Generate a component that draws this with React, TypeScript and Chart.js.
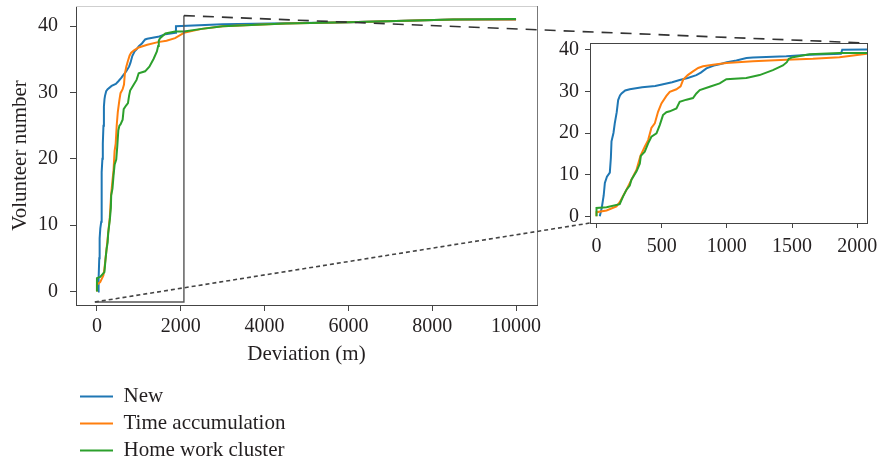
import { useEffect, useRef } from "react";
import { Chart, registerables } from "chart.js";

Chart.register(...registerables);

const W = 881;
const H = 465;
const FONT = "'Liberation Serif', 'Times New Roman', serif";
const TEXT = "#231f20";

// ---- data -------------------------------------------------------------
const seriesNames = ["New", "Time accumulation", "Home work cluster"];
const seriesColors = ["#1f77b4", "#ff7f0e", "#2ca02c"];

const newX = [25, 40, 55, 64, 80, 102, 110, 115, 130, 140, 155, 166, 180, 192, 220, 255, 350, 450, 511, 580, 638, 700, 766, 800, 843, 900, 945, 1000, 1073, 1150, 1200, 1456, 1634, 1875, 1885, 3000, 6000, 8500, 10000];
const newY = [0, 2, 5, 8, 9.5, 10.5, 14, 18, 20, 22.3, 25, 27.9, 29, 29.5, 30.2, 30.5, 31, 31.3, 31.7, 32.2, 32.7, 33.2, 33.9, 34.5, 35.5, 36.2, 36.5, 37, 37.4, 38, 38.1, 38.4, 38.8, 39, 40, 40.3, 40.6, 41, 41];

const timeX = [0, 0, 77, 153, 178, 230, 268, 307, 337, 370, 396, 421, 447, 472, 498, 536, 562, 613, 645, 665, 700, 740, 780, 817, 894, 996, 1200, 1456, 1660, 1864, 2074, 2500, 3000, 4500, 6000, 8500, 10000];
const timeY = [0, 1, 1.4, 2.4, 3.4, 6.4, 8.8, 11.2, 14.5, 16.7, 18.3, 21.2, 22.3, 25.1, 27.1, 28.9, 29.9, 30.5, 31.2, 32.8, 33.9, 34.8, 35.6, 36, 36.4, 36.8, 37.2, 37.6, 37.8, 38.2, 39, 39.6, 40, 40.4, 40.6, 41, 41];

const homeX = [0, 0, 77, 178, 204, 230, 255, 268, 307, 332, 340, 370, 396, 421, 460, 485, 510, 536, 562, 613, 638, 690, 740, 766, 792, 868, 945, 996, 1149, 1251, 1353, 1430, 1460, 1475, 1506, 1634, 1864, 2074, 2500, 3000, 4500, 6000, 8500, 10000];
const homeY = [0, 2, 2.2, 2.9, 4.8, 6.4, 7.4, 8.8, 10.8, 12.6, 14.5, 15.5, 17.5, 19.1, 19.9, 21.9, 24.3, 25, 25.2, 25.9, 27.5, 28, 28.4, 29.5, 30.3, 31.1, 31.9, 32.9, 33.2, 33.9, 35.1, 36.2, 37, 37.8, 38.2, 38.9, 39.2, 39.2, 39.6, 40, 40.4, 40.6, 41, 41.1];

const mainXTicks = [0, 2000, 4000, 6000, 8000, 10000];
const mainYTicks = [0, 10, 20, 30, 40];
const insetXTicks = [0, 500, 1000, 1500, 2000];
const insetYTicks = [0, 10, 20, 30, 40];
const mainXRange = [-500, 10500];
const mainYRange = [-2.05, 43.05];
const insetXRange = [-50, 2075];
const insetYRange = [-1.6, 41.6];

const xTitle = "Deviation (m)";
const yTitle = "Volunteer number";

// ---- helpers ----------------------------------------------------------
const seriesList = [
  { label: seriesNames[0], xs: newX, ys: newY, color: seriesColors[0] },
  { label: seriesNames[1], xs: timeX, ys: timeY, color: seriesColors[1] },
  { label: seriesNames[2], xs: homeX, ys: homeY, color: seriesColors[2] },
];

function makeDatasets(width: number) {
  // reversed so that the last series is painted on top (Chart.js paints index 0 last)
  return [...seriesList].reverse().map((s) => ({
    label: s.label,
    data: s.xs.map((x, i) => ({ x, y: s.ys[i] })),
    borderColor: s.color,
    backgroundColor: s.color,
    borderWidth: width,
    pointRadius: 0,
    tension: 0,
    fill: false,
  }));
}

const fixTicks = (vals: number[]) => (scale: any) => {
  scale.ticks = vals.map((v) => ({ value: v }));
};

function spinesPlugin(id: string, sides: { top?: string; right?: string }) {
  return {
    id,
    afterDraw(chart: any) {
      const { ctx, chartArea: a } = chart;
      ctx.save();
      ctx.lineWidth = 1;
      if (sides.top) {
        ctx.strokeStyle = sides.top;
        ctx.beginPath();
        ctx.moveTo(a.left, Math.round(a.top) + 0.5);
        ctx.lineTo(a.right, Math.round(a.top) + 0.5);
        ctx.stroke();
      }
      if (sides.right) {
        ctx.strokeStyle = sides.right;
        ctx.beginPath();
        ctx.moveTo(Math.round(a.right) + 0.5, a.top);
        ctx.lineTo(Math.round(a.right) + 0.5, a.bottom);
        ctx.stroke();
      }
      ctx.restore();
    },
  };
}

function axisOpts(kind: "x" | "y", range: number[], ticks: number[], size: number, tickPad: number, tickLen: number, title?: any) {
  const o: any = {
    type: "linear",
    min: range[0],
    max: range[1],
    afterBuildTicks: fixTicks(ticks),
    grid: { display: true, drawOnChartArea: false, drawTicks: true, tickLength: tickLen, color: "#444", lineWidth: 1 },
    border: { display: true, color: "#444", width: 1 },
    ticks: {
      font: { family: FONT, size: 20 },
      color: TEXT,
      padding: tickPad,
      maxRotation: 0,
      autoSkip: false,
      callback: (v: any) => `${v}`,
    },
    title: title || { display: false },
  };
  if (kind === "x")
    o.afterFit = (s: any) => {
      s.height = size;
      s.paddingLeft = 0;
      s.paddingRight = 0;
    };
  else
    o.afterFit = (s: any) => {
      s.width = size;
      s.paddingTop = 0;
      s.paddingBottom = 0;
    };
  return o;
}

export default function App() {
  const mainRef = useRef<HTMLCanvasElement>(null);
  const insetRef = useRef<HTMLCanvasElement>(null);
  const legendRef = useRef<HTMLCanvasElement>(null);

  useEffect(() => {
    if (!mainRef.current || !insetRef.current || !legendRef.current) return;

    // main chart: area left 76, right 537, top 6, bottom 305
    const main = new Chart(mainRef.current, {
      type: "line",
      data: { datasets: makeDatasets(2) as any },
      options: {
        animation: false,
        responsive: false,
        events: [],
        layout: { padding: { left: 0, top: 6, right: W - 537, bottom: H - 305 - 70 } },
        plugins: { legend: { display: false }, tooltip: { enabled: false } },
        scales: {
          x: axisOpts("x", mainXRange, mainXTicks, 70, 4, 6, {
            display: true,
            text: xTitle,
            font: { family: FONT, size: 21 },
            color: TEXT,
            padding: { top: 0, bottom: 8 },
          }),
          y: axisOpts("y", mainYRange, mainYTicks, 76, 12, 6, {
            display: true,
            text: yTitle,
            font: { family: FONT, size: 21 },
            color: TEXT,
            padding: { top: 8, bottom: 0 },
          }),
        },
      } as any,
      plugins: [spinesPlugin("mainSpines", { top: "#cfcfcf", right: "#777" })],
    });

    const connectors = {
      id: "connectors",
      afterDraw(chart: any) {
        const { ctx, chartArea: a } = chart;
        const mx = main.scales.x;
        const my = main.scales.y;
        const x0 = mx.getPixelForValue(insetXRange[0]);
        const x1 = mx.getPixelForValue(insetXRange[1]);
        const y0 = my.getPixelForValue(insetYRange[0]);
        const y1 = my.getPixelForValue(insetYRange[1]);
        ctx.save();
        // zoom rectangle (visible edges)
        ctx.strokeStyle = "#555";
        ctx.lineWidth = 1.4;
        ctx.setLineDash([]);
        ctx.beginPath();
        ctx.moveTo(x0, y0);
        ctx.lineTo(x1, y0);
        ctx.lineTo(x1, y1);
        ctx.stroke();
        // dotted connector (bottom-left)
        ctx.strokeStyle = "#444";
        ctx.lineWidth = 1.6;
        ctx.setLineDash([4, 3]);
        ctx.beginPath();
        ctx.moveTo(x0, y0);
        ctx.lineTo(a.left, a.bottom);
        ctx.stroke();
        // dashed connector (top-right)
        ctx.strokeStyle = "#333";
        ctx.lineWidth = 1.6;
        ctx.setLineDash([11, 8]);
        ctx.beginPath();
        ctx.moveTo(x1, y1);
        ctx.lineTo(a.right, a.top);
        ctx.stroke();
        ctx.restore();
      },
    };

    // inset chart: area left 590, right 867, top 43, bottom 223
    const inset = new Chart(insetRef.current, {
      type: "line",
      data: { datasets: makeDatasets(2) as any },
      options: {
        animation: false,
        responsive: false,
        events: [],
        layout: { padding: { left: 590 - 40, top: 43, right: W - 867, bottom: H - 223 - 40 } },
        plugins: { legend: { display: false }, tooltip: { enabled: false } },
        scales: {
          x: axisOpts("x", insetXRange, insetXTicks, 40, 7, 5),
          y: axisOpts("y", insetYRange, insetYTicks, 40, 6, 5),
        },
      } as any,
      plugins: [spinesPlugin("insetSpines", { top: "#444", right: "#444" }), connectors],
    });

    // legend
    const legend = new Chart(legendRef.current, {
      type: "line",
      data: {
        datasets: seriesList.map((s) => ({
          label: s.label,
          data: [],
          borderColor: s.color,
          backgroundColor: s.color,
        })),
      },
      options: {
        animation: false,
        responsive: false,
        events: [],
        layout: { padding: 0 },
        scales: { x: { display: false }, y: { display: false } },
        plugins: {
          tooltip: { enabled: false },
          legend: {
            display: true,
            position: "top",
            align: "start",
            labels: {
              boxWidth: 33,
              boxHeight: 2,
              padding: 6,
              color: TEXT,
              font: { family: FONT, size: 21 },
              generateLabels: (c: any) =>
                c.data.datasets.map((d: any, i: number) => ({
                  text: d.label,
                  fillStyle: d.borderColor,
                  strokeStyle: d.borderColor,
                  lineWidth: 0,
                  hidden: false,
                  datasetIndex: i,
                  fontColor: TEXT,
                })),
            },
          },
        },
      } as any,
    });

    return () => {
      legend.destroy();
      inset.destroy();
      main.destroy();
    };
  }, []);

  return (
    <div style={{ position: "absolute", left: 0, top: 0, width: W, height: H, overflow: "hidden", background: "#fff" }}>
      <canvas ref={mainRef} width={W} height={H} style={{ position: "absolute", left: 0, top: 0 }} />
      <canvas ref={insetRef} width={W} height={H} style={{ position: "absolute", left: 0, top: 0 }} />
      <canvas ref={legendRef} width={240} height={200} style={{ position: "absolute", left: 74, top: 380 }} />
    </div>
  );
}
